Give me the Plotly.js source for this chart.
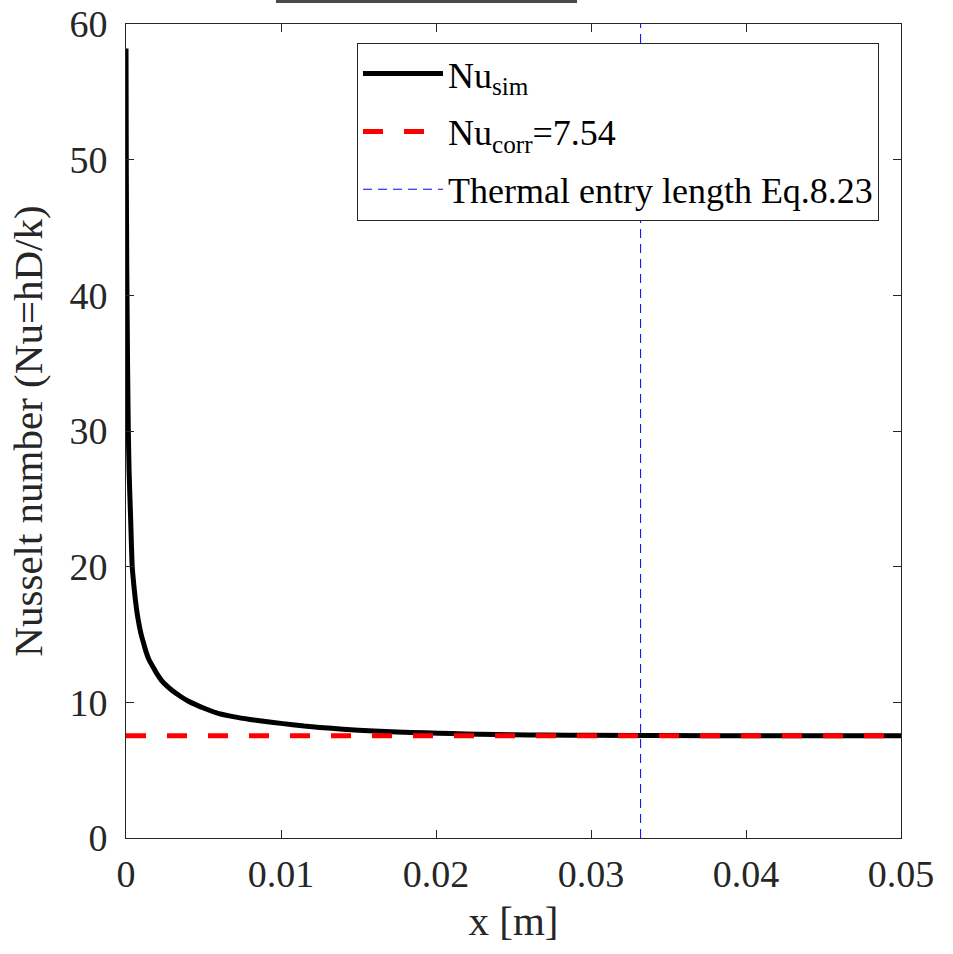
<!DOCTYPE html>
<html>
<head>
<meta charset="utf-8">
<script src="https://cdn.plot.ly/plotly-3.0.1.min.js"></script>
<style>html,body{margin:0;padding:0;background:#fff;}#chart{width:953px;height:954px;}</style>
</head>
<body>
<div id="chart"></div>
<script>
// Simulated Nusselt number along the tube
const xSim = [0, 0.00002, 0.00005, 0.0001, 0.00015, 0.0002, 0.0003, 0.0004, 0.0005, 0.0006, 0.0007, 0.0008, 0.0009, 0.001, 0.0011, 0.0013, 0.0015, 0.0018, 0.002, 0.0023, 0.0026, 0.003, 0.0035, 0.004, 0.0045, 0.005, 0.0055, 0.006, 0.007, 0.008, 0.009, 0.010, 0.0115, 0.0125, 0.014, 0.016, 0.0175, 0.0193, 0.021, 0.0228, 0.025, 0.027, 0.03, 0.035, 0.04, 0.045, 0.05];
const nuSim = [58.2, 49, 42, 35, 30, 27, 23.5, 20, 18.7, 17.6, 16.7, 16.0, 15.4, 14.9, 14.5, 13.7, 13.1, 12.5, 12.1, 11.6, 11.25, 10.85, 10.45, 10.1, 9.83, 9.58, 9.36, 9.17, 8.93, 8.74, 8.58, 8.45, 8.25, 8.15, 8.02, 7.88, 7.81, 7.76, 7.70, 7.65, 7.61, 7.59, 7.57, 7.55, 7.54, 7.54, 7.54];
// Correlation value
const xCorr = [0, 0.05];
const nuCorr = [7.54, 7.54];
// Thermal entry length (Eq. 8.23)
const xEntry = [0.0332, 0.0332];
const yEntry = [0, 60];
// Tick labels
const xTickVals = [0, 0.01, 0.02, 0.03, 0.04, 0.05];
const xTickText = ["0", "0.01", "0.02", "0.03", "0.04", "0.05"];
const yTickVals = [0, 10, 20, 30, 40, 50, 60];
const yTickText = ["0", "10", "20", "30", "40", "50", "60"];

const FONT = "Liberation Serif";
const axisColor = "#262626";

const traces = [
  {x: xSim, y: nuSim, mode: "lines", name: "Nu<sub>sim</sub>", legendgroup: "a",
   line: {color: "#000000", width: 5, shape: "spline", smoothing: 0.5}},
  {x: xCorr, y: nuCorr, mode: "lines", name: "Nu<sub>corr</sub>=7.54", legendgroup: "b",
   line: {color: "#ff0000", width: 5, dash: "20px,21px"}},
  {x: xEntry, y: yEntry, mode: "lines", name: "Thermal entry length Eq.8.23", legendgroup: "c",
   line: {color: "#0000ff", width: 1, dash: "9px,6px"}}
];

const layout = {
  width: 953, height: 954,
  margin: {l: 126, r: 52, t: 24, b: 116, pad: 0},
  paper_bgcolor: "#ffffff", plot_bgcolor: "#ffffff",
  font: {family: FONT, color: axisColor, size: 38},
  showlegend: true,
  legend: {
    x: 0.9716, y: 0.977, xanchor: "right", yanchor: "top",
    bgcolor: "#ffffff", bordercolor: axisColor, borderwidth: 1,
    font: {family: FONT, size: 36, color: "#000000"},
    tracegroupgap: 8, itemwidth: 80
  },
  xaxis: {
    range: [0, 0.05], tickvals: xTickVals, ticktext: xTickText,
    ticks: "inside", ticklen: 8, tickwidth: 1, tickcolor: axisColor,
    showline: true, linecolor: axisColor, linewidth: 1, mirror: "ticks",
    showgrid: false, zeroline: false,
    tickfont: {family: FONT, size: 38, color: axisColor},
    ticklabelstandoff: 2,
    title: {text: "x [m]", font: {family: FONT, size: 41, color: axisColor}, standoff: 12}
  },
  yaxis: {
    range: [0, 60], tickvals: yTickVals, ticktext: yTickText,
    ticks: "inside", ticklen: 8, tickwidth: 1, tickcolor: axisColor,
    showline: true, linecolor: axisColor, linewidth: 1, mirror: "ticks",
    showgrid: false, zeroline: false,
    tickfont: {family: FONT, size: 38, color: axisColor},
    ticklabelstandoff: 10,
    title: {text: "Nusselt number (Nu=hD/k)", font: {family: FONT, size: 41, color: axisColor}, standoff: 14}
  },
  shapes: [
    {type: "rect", xref: "paper", yref: "paper", x0: 0.1935, x1: 0.582, y0: 1.0258, y1: 1.035,
     fillcolor: "#4a4a4a", line: {width: 0}, layer: "above"}
  ]
};

Plotly.newPlot("chart", traces, layout, {displayModeBar: false, staticPlot: true});
</script>
</body>
</html>
